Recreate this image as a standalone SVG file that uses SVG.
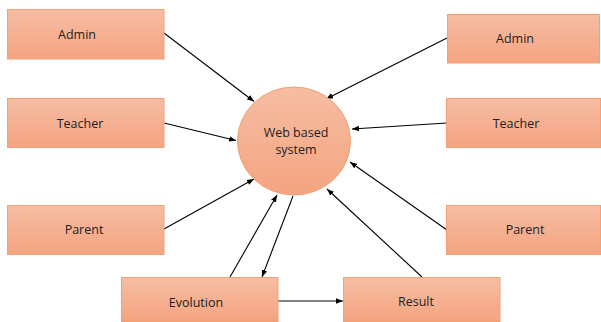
<svg xmlns="http://www.w3.org/2000/svg" width="601" height="322" viewBox="0 0 601 322">
<defs>
<linearGradient id="g" x1="0" y1="0" x2="0" y2="1">
<stop offset="0" stop-color="#F6BDA3"/>
<stop offset="1" stop-color="#F4A480"/>
</linearGradient>
<marker id="ah" viewBox="0 0 10 10" refX="10" refY="5" markerWidth="7" markerHeight="7" markerUnits="userSpaceOnUse" orient="auto">
<path d="M0,1 L10,5 L0,9 z" fill="#000"/>
</marker>
</defs>
<style>
.box{fill:url(#g);stroke:#F2A077;stroke-width:1}
.t{font-family:"Open Sans","Liberation Sans",Arial,sans-serif;font-size:12.5px;fill:#1e1e1e;text-anchor:middle}
.c{stroke:#000;stroke-width:1.1;fill:none;marker-end:url(#ah)}
</style>
<rect width="601" height="322" fill="#fff"/>
<g id="connectors">
<line class="c" x1="164" y1="33" x2="254" y2="101.5"/>
<line class="c" x1="164" y1="123" x2="236" y2="140.5"/>
<line class="c" x1="164" y1="229" x2="254" y2="179"/>
<line class="c" x1="230" y1="277" x2="277" y2="195"/>
<line class="c" x1="293" y1="196" x2="262" y2="277"/>
<line class="c" x1="278" y1="301" x2="343" y2="301"/>
<line class="c" x1="422" y1="277" x2="327" y2="189"/>
<line class="c" x1="447" y1="230" x2="350" y2="162"/>
<line class="c" x1="447" y1="123" x2="352" y2="129"/>
<line class="c" x1="447" y1="38" x2="326" y2="99"/>
</g>
<g id="web">
<ellipse class="box" cx="294" cy="141" rx="56.5" ry="54"/>
<text class="t" x="296" y="137">Web based</text>
<text class="t" x="296" y="154">system</text>
</g>
<g id="admin-left">
<rect class="box" x="7.5" y="9.5" width="156.5" height="49.5"/>
<text class="t" x="77" y="38.5">Admin</text>
</g>
<g id="teacher-left">
<rect class="box" x="7.5" y="98.5" width="156.5" height="49"/>
<text class="t" x="80" y="128">Teacher</text>
</g>
<g id="parent-left">
<rect class="box" x="7.5" y="205.5" width="156.5" height="49"/>
<text class="t" x="84" y="234">Parent</text>
</g>
<g id="evolution">
<rect class="box" x="121.5" y="277.5" width="156.5" height="44"/>
<text class="t" x="196" y="306.5">Evolution</text>
</g>
<g id="result">
<rect class="box" x="343.5" y="277.5" width="156.5" height="44"/>
<text class="t" x="416" y="306">Result</text>
</g>
<g id="admin-right">
<rect class="box" x="447.5" y="14.5" width="152" height="48.5"/>
<text class="t" x="515" y="43">Admin</text>
</g>
<g id="teacher-right">
<rect class="box" x="446.5" y="98.5" width="154" height="49"/>
<text class="t" x="516" y="128">Teacher</text>
</g>
<g id="parent-right">
<rect class="box" x="446.5" y="205.5" width="154" height="49"/>
<text class="t" x="525" y="234">Parent</text>
</g>
</svg>
